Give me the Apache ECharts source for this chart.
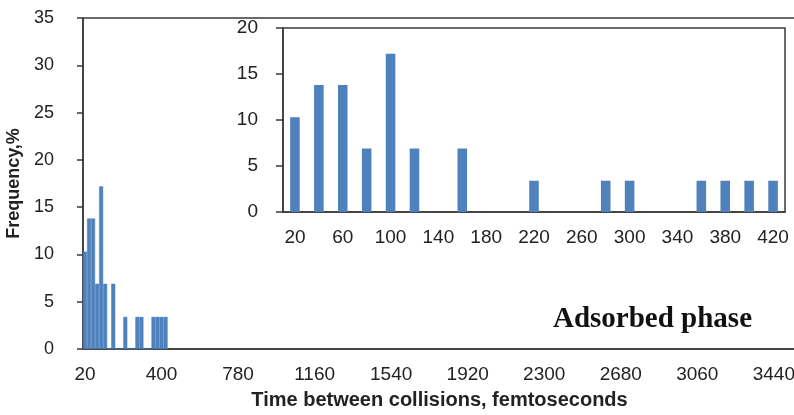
<!DOCTYPE html>
<html>
<head>
<meta charset="utf-8">
<script src="https://cdn.jsdelivr.net/npm/echarts@6/dist/echarts.min.js"></script>
<style>
  html, body { margin: 0; padding: 0; background: #fff; }
  #chart { width: 794px; height: 415px; }
</style>
</head>
<body>
<div id="chart"></div>
<script>
// bins of 20 fs, inset shows the first 21 bins
const insetCategories = ['20', '40', '60', '80', '100', '120', '140', '160', '180', '200', '220',
  '240', '260', '280', '300', '320', '340', '360', '380', '400', '420'];
const frequency = [10.3, 13.8, 13.8, 6.9, 17.2, 6.9, 0, 6.9, 0, 0, 3.4,
  0, 0, 3.4, 3.4, 0, 0, 3.4, 3.4, 3.4, 3.4];

// main axis runs 20 .. 3540 fs in the same 20 fs bins
const binStart = 20;
const binEnd = 3540;
const binStep = 20;
const mainCategories = [];
for (let t = binStart; t <= binEnd; t += binStep) mainCategories.push(String(t));

const mainYTicks = { min: 0, max: 35, interval: 5 };
const insetYTicks = { min: 0, max: 20, interval: 5 };

const font = '"Liberation Sans", Arial, sans-serif';
const textColor = '#222';
const lineColor = '#3a3a3a';
const barColor = '#4f81bd';

const chart = echarts.init(document.getElementById('chart'), null, { renderer: 'canvas' });

chart.setOption({
  animation: false,
  textStyle: { fontFamily: font },
  grid: [
    {
      left: 83, right: -2, top: 18, bottom: 66,
      outerBoundsMode: 'none',
      show: true, borderColor: lineColor, borderWidth: 1.5,
    },
    {
      left: 283, right: 9, top: 28, bottom: 203,
      outerBoundsMode: 'none',
      show: true, borderColor: lineColor, borderWidth: 1.5, backgroundColor: '#fff',
    },
  ],
  xAxis: [
    {
      type: 'category',
      gridIndex: 0,
      data: mainCategories,
      name: 'Time between collisions, femtoseconds',
      nameLocation: 'middle',
      nameGap: 41,
      nameTextStyle: { fontSize: 20, fontWeight: 'bold', color: textColor, fontFamily: font },
      axisLine: { lineStyle: { color: lineColor, width: 1.5 } },
      axisTick: { show: false },
      axisLabel: { interval: 18, margin: 16, fontSize: 19, color: textColor },
    },
    {
      type: 'category',
      gridIndex: 1,
      data: insetCategories,
      axisLine: { lineStyle: { color: lineColor, width: 1.5 } },
      axisTick: { interval: 0, length: 6, lineStyle: { color: lineColor, width: 1.5 } },
      axisLabel: { interval: 1, margin: 16, fontSize: 19, color: textColor },
    },
  ],
  yAxis: [
    {
      type: 'value',
      gridIndex: 0,
      min: mainYTicks.min,
      max: mainYTicks.max,
      interval: mainYTicks.interval,
      name: 'Frequency,%',
      nameLocation: 'middle',
      nameGap: 54,
      nameTextStyle: { fontSize: 18, fontWeight: 'bold', color: textColor, fontFamily: font },
      axisLine: { show: true, lineStyle: { color: lineColor, width: 1.5 } },
      axisTick: { show: true, length: 6, lineStyle: { color: lineColor, width: 1.5 } },
      axisLabel: { margin: 29, fontSize: 18, color: textColor },
      splitLine: { show: false },
    },
    {
      type: 'value',
      gridIndex: 1,
      min: insetYTicks.min,
      max: insetYTicks.max,
      interval: insetYTicks.interval,
      axisLine: { show: true, lineStyle: { color: lineColor, width: 1.5 } },
      axisTick: { show: true, length: 7, lineStyle: { color: lineColor, width: 1.5 } },
      axisLabel: { margin: 25, fontSize: 19, color: textColor },
      splitLine: { show: false },
    },
  ],
  series: [
    {
      type: 'bar',
      xAxisIndex: 0,
      yAxisIndex: 0,
      data: frequency,
      barCategoryGap: '0%',
      // thin border of the same colour closes the sub-pixel slivers between adjacent bins
      itemStyle: { color: barColor, borderColor: barColor, borderWidth: 0.5 },
    },
    {
      type: 'bar',
      xAxisIndex: 1,
      yAxisIndex: 1,
      data: frequency,
      barCategoryGap: '60%',
      itemStyle: { color: barColor },
    },
  ],
  graphic: [
    {
      type: 'text',
      left: 553,
      top: 305,
      style: {
        text: 'Adsorbed phase',
        font: 'bold 29px "Liberation Serif", "Times New Roman", serif',
        fill: '#111',
      },
    },
  ],
});
</script>
</body>
</html>
